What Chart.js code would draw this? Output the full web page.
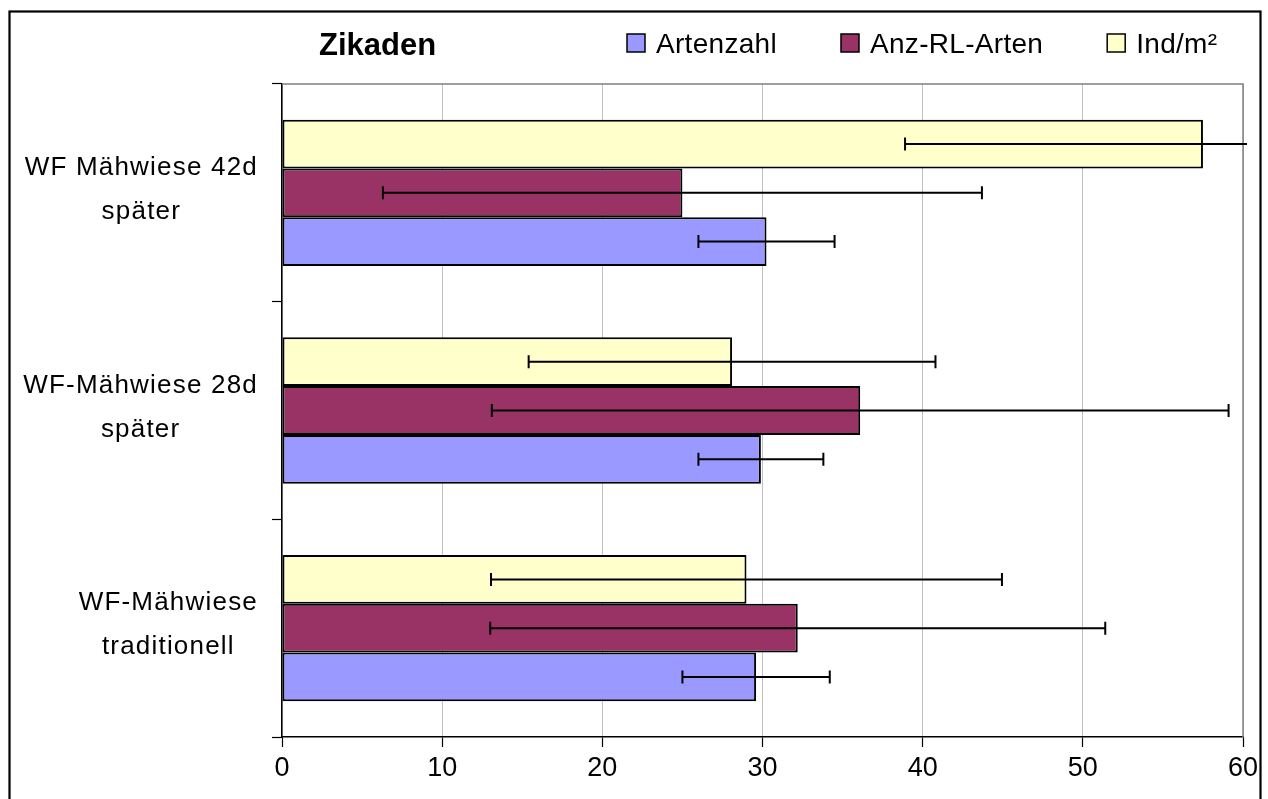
<!DOCTYPE html>
<html><head><meta charset="utf-8">
<script src="https://cdn.jsdelivr.net/npm/chart.js@4.4.1/dist/chart.umd.min.js"></script>
<style>html,body{margin:0;padding:0;background:#fff;overflow:hidden}#wrap{width:1268px;height:799px;position:relative}</style>
</head><body><div id="wrap"><canvas id="c" width="1268" height="799"></canvas></div>
<script>
const chartTitle = 'Zikaden';
const categories = [['WF Mähwiese 42d', 'später'], ['WF-Mähwiese 28d', 'später'], ['WF-Mähwiese', 'traditionell']];
const seriesNames = ['Artenzahl', 'Anz-RL-Arten', 'Ind/m²'];
const artenzahl = [30.25, 29.9, 29.6];
const artenzahlErr = [4.25, 3.9, 4.6];
const anzRL = [25.0, 36.1, 32.2];
const anzRLErr = [18.7, 23.0, 19.2];
const indM2 = [57.5, 28.1, 29.0];
const indM2Err = [18.6, 12.7, 15.95];
const xTicks = [0, 10, 20, 30, 40, 50, 60];
const seriesColors = ['#9999FF', '#993366', '#FFFFCC'];

const FONT = '"Liberation Sans", Arial, sans-serif';
const series = [
  { name: seriesNames[0], data: artenzahl, err: artenzahlErr, color: seriesColors[0] },
  { name: seriesNames[1], data: anzRL, err: anzRLErr, color: seriesColors[1] },
  { name: seriesNames[2], data: indM2, err: indM2Err, color: seriesColors[2] }
];
// Excel draws the last series on top within a group
const datasets = series.slice().reverse().map(s => ({
  label: s.name, data: s.data, errors: s.err,
  backgroundColor: s.color, borderColor: '#000', borderWidth: 2, borderSkipped: false,
  barPercentage: 1.0, categoryPercentage: 0.672
}));

const bgPlugin = {
  id: 'bg',
  beforeDraw(chart) {
    const ctx = chart.ctx;
    ctx.save();
    ctx.fillStyle = '#fff';
    ctx.fillRect(0, 0, chart.width, chart.height);
    ctx.restore();
  }
};

const framePlugin = {
  id: 'frame',
  beforeDatasetsDraw(chart) {
    const ctx = chart.ctx, ca = chart.chartArea;
    ctx.save();
    ctx.strokeStyle = '#808080';
    ctx.lineWidth = 1.5;
    ctx.beginPath();
    ctx.moveTo(ca.left, ca.top); ctx.lineTo(ca.right, ca.top); ctx.lineTo(ca.right, ca.bottom);
    ctx.stroke();
    ctx.restore();
  },
  afterDraw(chart) {
    const ctx = chart.ctx;
    ctx.save();
    ctx.strokeStyle = '#000';
    ctx.lineWidth = 2.2;
    ctx.strokeRect(9.5, 11.5, 1251, 820);
    ctx.restore();
  }
};

const errPlugin = {
  id: 'errbars',
  afterDatasetsDraw(chart) {
    const ctx = chart.ctx, xs = chart.scales.x, ca = chart.chartArea;
    ctx.save();
    ctx.strokeStyle = '#000';
    ctx.lineWidth = 2;
    chart.data.datasets.forEach((ds, di) => {
      const meta = chart.getDatasetMeta(di);
      meta.data.forEach((bar, i) => {
        const v = ds.data[i], e = ds.errors[i];
        const y = bar.y;
        let x1 = xs.getPixelForValue(v - e);
        let x2 = xs.getPixelForValue(v + e);
        const lim = ca.right + 4;
        const clipped = x2 > lim;
        if (clipped) x2 = lim;
        ctx.beginPath();
        ctx.moveTo(x1, y); ctx.lineTo(x2, y);
        ctx.moveTo(x1, y - 6.5); ctx.lineTo(x1, y + 6.5);
        if (!clipped) { ctx.moveTo(x2, y - 6.5); ctx.lineTo(x2, y + 6.5); }
        ctx.stroke();
      });
    });
    ctx.restore();
  }
};

const labelPlugin = {
  id: 'ylabels',
  afterDraw(chart) {
    const ctx = chart.ctx, ys = chart.scales.y;
    ctx.save();
    ctx.font = '26px ' + FONT;
    ctx.fillStyle = '#000';
    if ('letterSpacing' in ctx) ctx.letterSpacing = '1.2px';
    ctx.textAlign = 'center';
    ctx.textBaseline = 'middle';
    const lh = 44;
    chart.data.labels.forEach((lab, i) => {
      const lines = Array.isArray(lab) ? lab : [lab];
      const w = Math.max(...lines.map(l => ctx.measureText(l).width));
      const right = ys.right - 24;
      const cx = right - w / 2;
      const cy = ys.getPixelForTick(i) - 3;
      lines.forEach((l, j) => ctx.fillText(l, cx, cy + (j - (lines.length - 1) / 2) * lh));
    });
    ctx.restore();

    // title + legend
    ctx.save();
    ctx.fillStyle = '#000';
    ctx.textAlign = 'left';
    ctx.textBaseline = 'alphabetic';
    ctx.font = 'bold 31px ' + FONT;
    ctx.fillText(chartTitle, 319, 55);
    ctx.font = '28px ' + FONT;
    if ('letterSpacing' in ctx) ctx.letterSpacing = '0.3px';
    let x = 627;
    series.forEach(s => {
      ctx.fillStyle = s.color;
      ctx.fillRect(x, 34, 18, 18);
      ctx.strokeStyle = '#000';
      ctx.lineWidth = 1.5;
      ctx.strokeRect(x, 34, 18, 18);
      ctx.fillStyle = '#000';
      ctx.fillText(s.name, x + 29, 53);
      x += 29 + ctx.measureText(s.name).width + 64;
    });
    ctx.restore();
  }
};

new Chart(document.getElementById('c'), {
  type: 'bar',
  data: { labels: categories, datasets: datasets },
  options: {
    indexAxis: 'y',
    responsive: false,
    animation: false,
    devicePixelRatio: 1,
    layout: { padding: { top: 84, right: 25, bottom: 0, left: 0 } },
    plugins: { legend: { display: false }, title: { display: false }, tooltip: { enabled: false } },
    scales: {
      x: {
        min: 0, max: 60,
        afterBuildTicks: s => { s.ticks = xTicks.map(v => ({ value: v })); },
        ticks: { color: '#000', font: { family: FONT, size: 27 }, padding: 5, maxRotation: 0 },
        grid: { color: '#c0c0c0', lineWidth: 1, tickColor: '#000', tickLength: 10, tickWidth: 1.2 },
        border: { color: '#000', width: 1.5 },
        afterFit: s => { s.height = 62; }
      },
      y: {
        type: 'category', offset: true,
        grid: { display: true, drawOnChartArea: false, drawTicks: true, tickLength: 10, tickColor: '#000', tickWidth: 1.2, offset: true },
        border: { color: '#000', width: 1.5 },
        ticks: { display: false },
        afterFit: s => { s.width = 282; }
      }
    }
  },
  plugins: [bgPlugin, framePlugin, errPlugin, labelPlugin]
});
</script>
</body></html>
